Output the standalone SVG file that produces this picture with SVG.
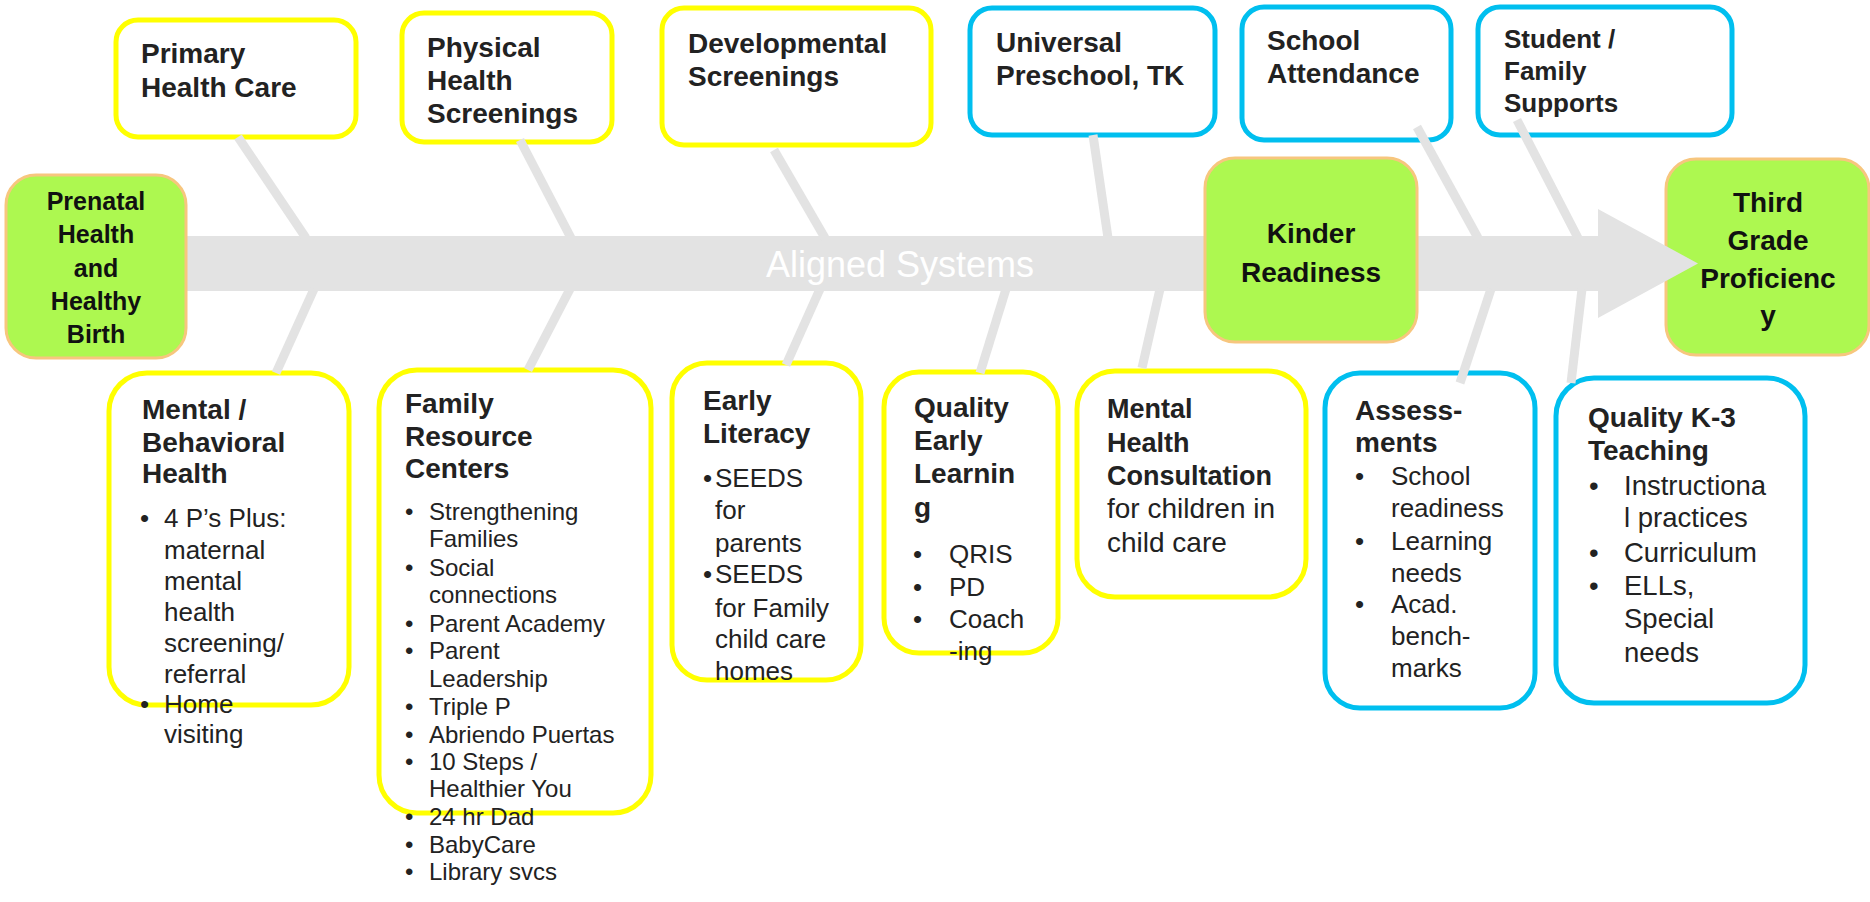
<svg xmlns="http://www.w3.org/2000/svg" width="1870" height="902" viewBox="0 0 1870 902">
<style>
.bg{fill:#ffffff}
.yb{fill:#ffffff;stroke:#FFFF00;stroke-width:5}
.bb{fill:#ffffff;stroke:#00BFEF;stroke-width:5}
.gb{fill:#ADF850;stroke:#F7C67E;stroke-width:3}
.h{font-family:"Liberation Sans",Arial,sans-serif;font-weight:bold;font-size:28px;fill:#222222}
.hg{font-family:"Liberation Sans",Arial,sans-serif;font-weight:bold;font-size:28px;fill:#111111;text-anchor:middle}
.t{font-family:"Liberation Sans",Arial,sans-serif;font-size:26px;fill:#222222}
.s{font-family:"Liberation Sans",Arial,sans-serif;font-size:24px;fill:#222222}
.spoke{stroke:#E3E3E3;stroke-width:9;fill:none}
.band{fill:#E3E3E3}
.lab{font-family:"Liberation Sans",Arial,sans-serif;font-size:36px;fill:#FFFFFF;text-anchor:middle}
</style>
<rect class="bg" x="0" y="0" width="1870" height="902"/>

<g id="node-third-grade">
<rect class="gb" x="1666" y="159" width="203" height="196" rx="30"/>
<text class="hg" x="1768" y="212">Third</text>
<text class="hg" x="1768" y="250">Grade</text>
<text class="hg" x="1768" y="288">Proficienc</text>
<text class="hg" x="1768" y="325">y</text>
</g>

<g id="node-primary-health-care">
<rect class="yb" x="116" y="20" width="240" height="117" rx="22"/>
<text class="h" x="141" y="63">Primary</text>
<text class="h" x="141" y="97">Health Care</text>
</g>

<g id="node-physical-health">
<rect class="yb" x="402" y="13" width="210" height="129" rx="22"/>
<text class="h" x="427" y="57">Physical</text>
<text class="h" x="427" y="90">Health</text>
<text class="h" x="427" y="123">Screenings</text>
</g>

<g id="node-developmental">
<rect class="yb" x="662" y="8" width="269" height="137" rx="22"/>
<text class="h" x="688" y="53">Developmental</text>
<text class="h" x="688" y="86">Screenings</text>
</g>

<g id="node-universal-preschool">
<rect class="bb" x="970" y="8" width="245" height="127" rx="22"/>
<text class="h" x="996" y="52">Universal</text>
<text class="h" x="996" y="85">Preschool, TK</text>
</g>

<g id="node-school-attendance">
<rect class="bb" x="1242" y="7" width="209" height="133" rx="22"/>
<text class="h" x="1267" y="50">School</text>
<text class="h" x="1267" y="83">Attendance</text>
</g>

<g id="node-student-family">
<rect class="bb" x="1478" y="7" width="254" height="128" rx="22"/>
<text class="h" style="font-size:26px" x="1504" y="48">Student /</text>
<text class="h" style="font-size:26px" x="1504" y="80">Family</text>
<text class="h" style="font-size:26px" x="1504" y="112">Supports</text>
</g>

<g id="node-mental-behavioral">
<rect class="yb" x="109" y="373" width="240" height="332" rx="38"/>
<text class="h" x="142" y="419">Mental /</text>
<text class="h" x="142" y="452">Behavioral</text>
<text class="h" x="142" y="483">Health</text>
<text class="t" x="140" y="527">•</text>
<text class="t" x="164" y="527">4 P’s Plus:</text>
<text class="t" x="164" y="559">maternal</text>
<text class="t" x="164" y="590">mental</text>
<text class="t" x="164" y="621">health</text>
<text class="t" x="164" y="652">screening/</text>
<text class="t" x="164" y="683">referral</text>
<text class="t" x="140" y="713">•</text>
<text class="t" x="164" y="713">Home</text>
<text class="t" x="164" y="743">visiting</text>
</g>

<g id="node-family-resource">
<rect class="yb" x="379" y="370" width="272" height="443" rx="38"/>
<text class="h" x="405" y="413">Family</text>
<text class="h" x="405" y="446">Resource</text>
<text class="h" x="405" y="478">Centers</text>
<text class="s" x="405" y="520">•</text>
<text class="s" x="429" y="520">Strengthening</text>
<text class="s" x="429" y="547">Families</text>
<text class="s" x="405" y="576">•</text>
<text class="s" x="429" y="576">Social</text>
<text class="s" x="429" y="603">connections</text>
<text class="s" x="405" y="632">•</text>
<text class="s" x="429" y="632">Parent Academy</text>
<text class="s" x="405" y="659">•</text>
<text class="s" x="429" y="659">Parent</text>
<text class="s" x="429" y="687">Leadership</text>
<text class="s" x="405" y="715">•</text>
<text class="s" x="429" y="715">Triple P</text>
<text class="s" x="405" y="743">•</text>
<text class="s" x="429" y="743">Abriendo Puertas</text>
<text class="s" x="405" y="770">•</text>
<text class="s" x="429" y="770">10 Steps /</text>
<text class="s" x="429" y="797">Healthier You</text>
<text class="s" x="405" y="825">•</text>
<text class="s" x="429" y="825">24 hr Dad</text>
<text class="s" x="405" y="853">•</text>
<text class="s" x="429" y="853">BabyCare</text>
<text class="s" x="405" y="880">•</text>
<text class="s" x="429" y="880">Library svcs</text>
</g>

<g id="node-early-literacy">
<rect class="yb" x="672" y="363" width="189" height="317" rx="35"/>
<text class="h" x="703" y="410">Early</text>
<text class="h" x="703" y="443">Literacy</text>
<text class="t" x="703" y="487">•</text>
<text class="t" x="715" y="487">SEEDS</text>
<text class="t" x="715" y="519">for</text>
<text class="t" x="715" y="552">parents</text>
<text class="t" x="703" y="583">•</text>
<text class="t" x="715" y="583">SEEDS</text>
<text class="t" x="715" y="617">for Family</text>
<text class="t" x="715" y="648">child care</text>
<text class="t" x="715" y="680">homes</text>
</g>

<g id="node-quality-early-learning">
<rect class="yb" x="884" y="372" width="174" height="281" rx="35"/>
<text class="h" x="914" y="417">Quality</text>
<text class="h" x="914" y="450">Early</text>
<text class="h" x="914" y="483">Learnin</text>
<text class="h" x="914" y="517">g</text>
<text class="t" x="913" y="563">•</text>
<text class="t" x="949" y="563">QRIS</text>
<text class="t" x="913" y="596">•</text>
<text class="t" x="949" y="596">PD</text>
<text class="t" x="913" y="628">•</text>
<text class="t" x="949" y="628">Coach</text>
<text class="t" x="949" y="660">-ing</text>
</g>

<g id="node-mental-health-consultation">
<rect class="yb" x="1077" y="371" width="229" height="226" rx="38"/>
<text class="h" style="font-size:27px" x="1107" y="418">Mental</text>
<text class="h" style="font-size:27px" x="1107" y="452">Health</text>
<text class="h" style="font-size:27px" x="1107" y="485">Consultation</text>
<text class="t" style="font-size:28px" x="1107" y="518">for children in</text>
<text class="t" style="font-size:28px" x="1107" y="552">child care</text>
</g>

<g id="node-assessments">
<rect class="bb" x="1325" y="373" width="210" height="335" rx="35"/>
<text class="h" x="1355" y="420">Assess-</text>
<text class="h" x="1355" y="452">ments</text>
<text class="t" x="1355" y="485">•</text>
<text class="t" x="1391" y="485">School</text>
<text class="t" x="1391" y="517">readiness</text>
<text class="t" x="1355" y="550">•</text>
<text class="t" x="1391" y="550">Learning</text>
<text class="t" x="1391" y="582">needs</text>
<text class="t" x="1355" y="613">•</text>
<text class="t" x="1391" y="613">Acad.</text>
<text class="t" x="1391" y="645">bench-</text>
<text class="t" x="1391" y="677">marks</text>
</g>

<g id="node-quality-k3">
<rect class="bb" x="1556" y="378" width="249" height="325" rx="38"/>
<text class="h" x="1588" y="427">Quality K-3</text>
<text class="h" x="1588" y="460">Teaching</text>
<text class="t" style="font-size:27.5px" x="1589" y="495">•</text>
<text class="t" style="font-size:27.5px" x="1624" y="495">Instructiona</text>
<text class="t" style="font-size:27.5px" x="1624" y="527">l practices</text>
<text class="t" style="font-size:27.5px" x="1589" y="562">•</text>
<text class="t" style="font-size:27.5px" x="1624" y="562">Curriculum</text>
<text class="t" style="font-size:27.5px" x="1589" y="595">•</text>
<text class="t" style="font-size:27.5px" x="1624" y="595">ELLs,</text>
<text class="t" style="font-size:27.5px" x="1624" y="628">Special</text>
<text class="t" style="font-size:27.5px" x="1624" y="662">needs</text>
</g>

<g id="connectors">
<polygon class="band" points="150,236 1598,236 1598,209 1698,263.5 1598,318 1598,291 150,291"/>
<line class="spoke" x1="238" y1="137" x2="306" y2="238"/>
<line class="spoke" x1="520" y1="140" x2="571" y2="238"/>
<line class="spoke" x1="774" y1="150" x2="825" y2="238"/>
<line class="spoke" x1="1093" y1="135" x2="1108" y2="238"/>
<line class="spoke" x1="1417" y1="127" x2="1478" y2="238"/>
<line class="spoke" x1="1517" y1="120" x2="1578" y2="238"/>
<line class="spoke" x1="314" y1="289" x2="276" y2="373"/>
<line class="spoke" x1="570" y1="289" x2="528" y2="370"/>
<line class="spoke" x1="820" y1="289" x2="786" y2="365"/>
<line class="spoke" x1="1006" y1="289" x2="980" y2="373"/>
<line class="spoke" x1="1160" y1="289" x2="1142" y2="368"/>
<line class="spoke" x1="1491" y1="289" x2="1460" y2="383"/>
<line class="spoke" x1="1582" y1="289" x2="1571" y2="383"/>
<text class="lab" x="900" y="277">Aligned Systems</text>
</g>

<g id="node-prenatal">
<rect class="gb" x="6" y="175" width="180" height="183" rx="30"/>
<text class="hg" style="font-size:25px" x="96" y="210">Prenatal</text>
<text class="hg" style="font-size:25px" x="96" y="243">Health</text>
<text class="hg" style="font-size:25px" x="96" y="277">and</text>
<text class="hg" style="font-size:25px" x="96" y="310">Healthy</text>
<text class="hg" style="font-size:25px" x="96" y="343">Birth</text>
</g>

<g id="node-kinder-readiness">
<rect class="gb" x="1205" y="158" width="212" height="184" rx="30"/>
<text class="hg" x="1311" y="243">Kinder</text>
<text class="hg" x="1311" y="282">Readiness</text>
</g>
</svg>
